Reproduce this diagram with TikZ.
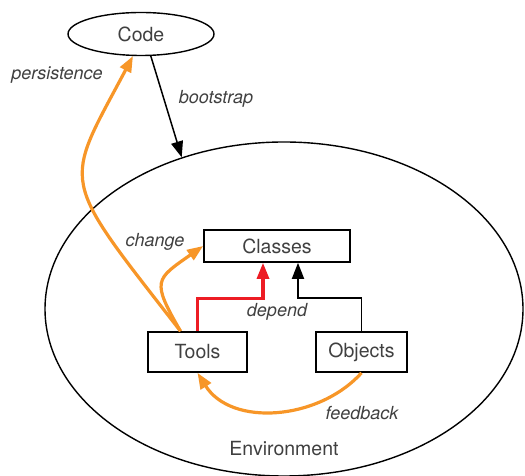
\documentclass[tikz,border=0pt]{standalone}
\usepackage{fontspec}
\setmainfont{TeX Gyre Heros}
\usetikzlibrary{arrows.meta,shapes.geometric}
\definecolor{txtgray}{RGB}{64,64,64}
\definecolor{orng}{RGB}{247,150,40}
\definecolor{rd}{RGB}{237,28,36}

\begin{document}
\begin{tikzpicture}[x=1pt,y=1pt,
  box/.style={draw,line width=1.7pt,minimum height=40pt,text=txtgray,font=\fontsize{19.5}{23}\selectfont},
  oval/.style={draw,ellipse,line width=1.4pt,text=txtgray,font=\fontsize{19.5}{23}\selectfont},
  lbl/.style={text=txtgray,font=\fontsize{18}{21}\selectfont\itshape},
  tip/.style={-{Triangle[length=16pt,width=12pt]}},
  orarr/.style={tip,draw=orng,line width=3.2pt}]
\useasboundingbox (0,0) rectangle (525,476);
\node[oval,minimum width=146pt,minimum height=43pt] (code) at (141,442) {Code};
\node[oval,minimum width=478pt,minimum height=334pt] (env) at (284,167) {};
\node[text=txtgray,font=\fontsize{19.5}{23}\selectfont] (envlbl) at (284,27) {Environment};
\node[box,minimum width=146pt,minimum height=32pt] (cls) at (277,230) {Classes};
\node[box,minimum width=99pt] (tools) at (197.5,124) {Tools};
\node[box,minimum width=91pt] (objs) at (361.5,124) {Objects};
\coordinate (tt) at ([xshift=-17pt]tools.north);
% arrows
\draw[tip,line width=1.5pt] (code.-66) -- (env.124);
\draw[tip,draw=rd,line width=3.2pt] (tools.north) -- ++(0,33) -| ([xshift=-14pt]cls.south);
\draw[tip,line width=1.8pt] (objs.north) -- ++(0,33) -| ([xshift=21pt]cls.south);
\draw[orarr] (tt) to[out=120,in=215,looseness=1.7] (cls.west);
\draw[orarr] (tt) .. controls +(-123,158) and +(-70,-132) .. (code.250);
\draw[orarr] (objs.south) to[out=228,in=302] (tools.south);
% labels
\node[lbl] (lpers) at (57,401) {persistence};
\node[lbl] (lboot) at (216,377) {bootstrap};
\node[lbl] (lchg) at (155,234) {change};
\node[lbl] (ldep) at (277,164) {depend};
\node[lbl] (lfeed) at (362,63) {feedback};
\end{tikzpicture}
\end{document}
